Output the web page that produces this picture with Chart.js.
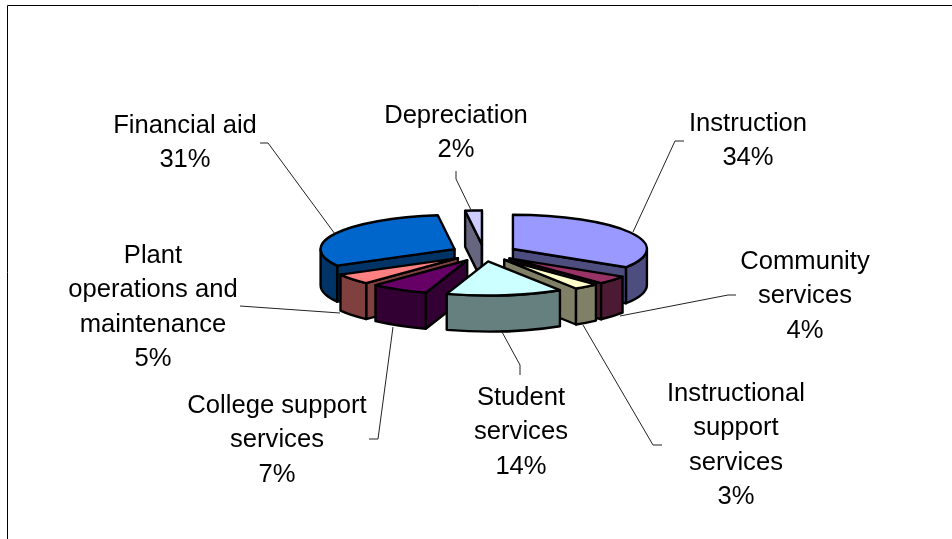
<!DOCTYPE html>
<html>
<head>
<meta charset="utf-8">
<style>
  html, body { margin: 0; padding: 0; background: #fff; }
  #wrap { width: 952px; height: 539px; }
</style>
<script src="https://cdn.jsdelivr.net/npm/chart.js@4"></script>
</head>
<body>
<div id="wrap"><canvas id="expenseChart" width="952" height="539"></canvas></div>
<script>
// Values
const categories = ['Instruction', 'Community services', 'Instructional support services', 'Student services',
    'College support services', 'Plant operations and maintenance', 'Financial aid', 'Depreciation'];
const percentages = [34, 4, 3, 14, 7, 5, 31, 2];
const topColors = ['#9999FF', '#993366', '#FFFFCC', '#CCFFFF', '#660066', '#FF8080', '#0066CC', '#CCCCFF'];
const sideColors = ['#4D4D80', '#4D1A33', '#808066', '#668080', '#330033', '#804040', '#003366', '#666680'];

// How each label is wrapped, and where it sits
const labelLines = [
    ['Instruction'],
    ['Community', 'services'],
    ['Instructional', 'support', 'services'],
    ['Student', 'services'],
    ['College support', 'services'],
    ['Plant', 'operations and', 'maintenance'],
    ['Financial aid'],
    ['Depreciation']
];
const labelCenters = [[748, 124], [805, 262], [736, 394], [521, 398], [277, 406], [153, 256], [185, 126], [456, 116]];
const leaderPaths = [
    [[684, 141], [675, 141], [633, 232]],
    [[736, 295], [728, 295], [620, 316]],
    [[662, 445], [653, 445], [583, 325]],
    [[520, 375], [520, 365], [502, 332]],
    [[369, 439], [378, 439], [393, 327]],
    [[240, 306], [340, 313]],
    [[260, 143], [268, 143], [335, 234]],
    [[456, 171], [456, 179], [472, 212]]
];

const SQUASH = 0.255;
const DEPTH = 36;
const EXPLODE = 33;
const LINE_HEIGHT = 34.3;

// Runs fn with strokes done in screen space, so outlines keep their width on the squashed top
function withScreenStroke(chart, ctx, fn) {
    const dpr = chart.currentDevicePixelRatio;
    const stroke = ctx.stroke;
    ctx.stroke = function () {
        ctx.save();
        ctx.setTransform(dpr, 0, 0, dpr, 0, 0);
        stroke.call(ctx);
        ctx.restore();
    };
    fn();
    delete ctx.stroke;
}

function drawFace(ctx, color, buildPath) {
    ctx.beginPath();
    buildPath();
    ctx.closePath();
    ctx.fillStyle = color;
    ctx.fill();
    ctx.strokeStyle = '#000';
    ctx.lineWidth = 2.4;
    ctx.lineJoin = 'round';
    ctx.stroke();
}

function drawCutFace(ctx, color, cx, cy, r, angle) {
    const ex = cx + Math.cos(angle) * r;
    const ey = cy + Math.sin(angle) * r * SQUASH;
    drawFace(ctx, color, () => {
        ctx.moveTo(cx, cy);
        ctx.lineTo(ex, ey);
        ctx.lineTo(ex, ey + DEPTH);
        ctx.lineTo(cx, cy + DEPTH);
    });
}

const pie3d = {
    id: 'pie3d',
    beforeDatasetsDraw(chart) {
        const ctx = chart.ctx;
        const arcs = chart.getDatasetMeta(0).data;

        const slices = arcs.map((arc, i) => {
            const mid = (arc.startAngle + arc.endAngle) / 2;
            return {
                arc,
                side: sideColors[i],
                cx: arc.x + Math.cos(mid) * EXPLODE,
                cy: arc.y + Math.sin(mid) * EXPLODE * SQUASH
            };
        });
        slices.sort((a, b) => a.cy - b.cy);

        slices.forEach((s) => {
            const { arc, side, cx, cy } = s;
            const r = arc.outerRadius;
            const a = arc.startAngle;
            const b = arc.endAngle;

            if (-Math.cos(a) > 0) drawCutFace(ctx, side, cx, cy, r, a);
            if (Math.cos(b) > 0) drawCutFace(ctx, side, cx, cy, r, b);

            const lo = Math.max(a, 0);
            const hi = Math.min(b, Math.PI);
            if (lo < hi) {
                drawFace(ctx, side, () => {
                    ctx.ellipse(cx, cy, r, r * SQUASH, 0, lo, hi);
                    ctx.ellipse(cx, cy + DEPTH, r, r * SQUASH, 0, hi, lo, true);
                });
            }

            ctx.save();
            ctx.translate(cx, cy);
            ctx.scale(1, SQUASH);
            ctx.translate(-arc.x, -arc.y);
            withScreenStroke(chart, ctx, () => arc.draw(ctx));
            ctx.restore();
        });
        return false;
    },
    afterDraw(chart) {
        const ctx = chart.ctx;
        ctx.save();

        // Frame, only the top and left edges fall inside the picture
        ctx.strokeStyle = '#000';
        ctx.lineWidth = 1;
        ctx.beginPath();
        ctx.moveTo(952, 5.5);
        ctx.lineTo(7.5, 5.5);
        ctx.lineTo(7.5, 539);
        ctx.stroke();

        // Leader lines
        ctx.strokeStyle = '#222';
        leaderPaths.forEach((path) => {
            ctx.beginPath();
            path.forEach((p, i) => (i ? ctx.lineTo(p[0], p[1]) : ctx.moveTo(p[0], p[1])));
            ctx.stroke();
        });

        // Labels
        ctx.fillStyle = '#000';
        ctx.font = '25.6px "Liberation Sans", Arial, sans-serif';
        ctx.textAlign = 'center';
        ctx.textBaseline = 'middle';
        categories.forEach((name, i) => {
            const lines = labelLines[i].concat(percentages[i] + '%');
            lines.forEach((line, j) => {
                ctx.fillText(line, labelCenters[i][0], labelCenters[i][1] + j * LINE_HEIGHT);
            });
        });
        ctx.restore();
    }
};

new Chart(document.getElementById('expenseChart'), {
    type: 'pie',
    data: {
        labels: categories,
        datasets: [{
            data: percentages,
            backgroundColor: topColors,
            borderColor: '#000',
            borderWidth: 2.4,
            borderJoinStyle: 'round'
        }]
    },
    options: {
        responsive: false,
        animation: false,
        radius: 134,
        layout: { padding: { left: 16, bottom: 33 } },
        plugins: {
            legend: { display: false },
            tooltip: { enabled: false }
        }
    },
    plugins: [pie3d]
});
</script>
</body>
</html>
